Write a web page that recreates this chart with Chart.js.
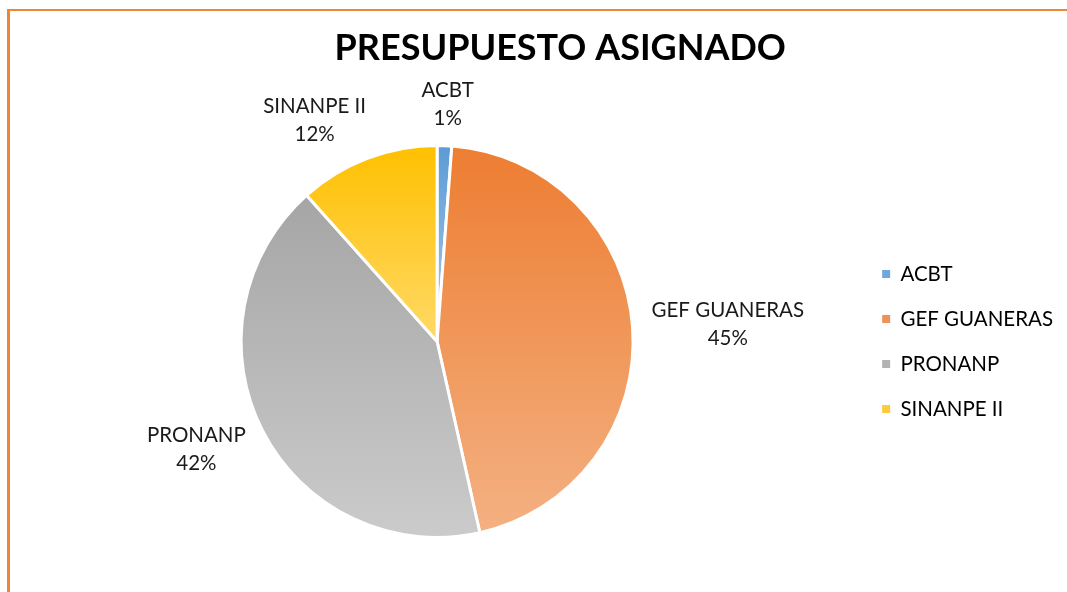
<!DOCTYPE html>
<html>
<head>
<meta charset="utf-8">
<script src="https://cdn.jsdelivr.net/npm/chart.js@4.4.1/dist/chart.umd.min.js"></script>
<style>
  html, body { margin: 0; padding: 0; background: #fff; overflow: hidden; }
  #frame { position: absolute; left: 7px; top: 9px; width: 1100px; height: 600px;
           border-left: 3px solid #EF8637; border-top: 2px solid #EF8637; }
  #budgetChart { display: block; }
</style>
</head>
<body>
<div id="frame"><canvas id="budgetChart" width="1096" height="581"></canvas></div>
<script>
// datos del gráfico
const categories = ["ACBT", "GEF GUANERAS", "PRONANP", "SINANPE II"];
const shares = [1.2, 45.3, 41.9, 11.6];
const percentLabels = ["1%", "45%", "42%", "12%"];
const topColors = ["#5B9BD5", "#ED7D31", "#A5A5A5", "#FFC000"];
const bottomColors = ["#A9CBEA", "#F4B183", "#CBCBCB", "#FFD966"];
const legendColors = ["#6FA8DC", "#F0915A", "#B3B3B3", "#FFCB3A"];

const FONT = "Lato, 'Noto Sans', sans-serif";
const LABEL_SIZE = 20.5;

// degradado vertical por porción (como en Excel)
function sliceGradient(context) {
    const i = context.dataIndex;
    const chart = context.chart;
    const area = chart.chartArea;
    if (!area) return topColors[i];
    const cx = (area.left + area.right) / 2;
    const cy = (area.top + area.bottom) / 2;
    const r = Math.min(area.right - area.left, area.bottom - area.top) / 2;
    const total = shares.reduce((a, b) => a + b, 0);
    let before = 0;
    for (let k = 0; k < i; k++) before += shares[k];
    const a0 = -Math.PI / 2 + before / total * 2 * Math.PI;
    const a1 = a0 + shares[i] / total * 2 * Math.PI;
    const ys = [cy, cy + r * Math.sin(a0), cy + r * Math.sin(a1)];
    const inside = (a) => {
        let t = a;
        while (t < a0) t += 2 * Math.PI;
        return t <= a1;
    };
    if (inside(Math.PI / 2)) ys.push(cy + r);
    if (inside(-Math.PI / 2)) ys.push(cy - r);
    const yTop = Math.min(...ys), yBot = Math.max(...ys);
    const g = chart.ctx.createLinearGradient(0, yTop, 0, yBot + 0.01);
    g.addColorStop(0, topColors[i]);
    g.addColorStop(1, bottomColors[i]);
    return g;
}

// etiquetas fuera de cada porción
const outsideLabels = {
    id: 'outsideLabels',
    afterDatasetsDraw(chart) {
        const ctx = chart.ctx;
        const meta = chart.getDatasetMeta(0);
        const lineH = 28;
        ctx.save();
        ctx.font = LABEL_SIZE + "px " + FONT;
        ctx.fillStyle = "#1a1a1a";
        ctx.textAlign = "center";
        ctx.textBaseline = "middle";
        meta.data.forEach((arc, i) => {
            const p = arc.getProps(['x', 'y', 'startAngle', 'endAngle', 'outerRadius'], true);
            const mid = (p.startAngle + p.endAngle) / 2;
            const dx = Math.cos(mid), dy = Math.sin(mid);
            const dist = p.outerRadius + 19;
            const ax = p.x + dx * dist, ay = p.y + dy * dist;
            const halfW = Math.max(ctx.measureText(categories[i]).width, ctx.measureText(percentLabels[i]).width) / 2;
            const halfH = 22;
            const fx = Math.max(-1, Math.min(1, dx * 2.5));
            const lx = ax + fx * halfW;
            const ly = ay + dy * halfH;
            ctx.fillText(categories[i], lx, ly - lineH / 2);
            ctx.fillText(percentLabels[i], lx, ly + lineH / 2);
        });
        ctx.restore();
    }
};

function createChart() {
    const ctx = document.getElementById('budgetChart').getContext('2d');
    window.budgetChart = new Chart(ctx, {
        type: 'pie',
        data: {
            labels: categories,
            datasets: [{
                data: shares,
                backgroundColor: sliceGradient,
                borderColor: "#ffffff",
                borderWidth: 3
            }]
        },
        options: {
            responsive: false,
            animation: false,
            layout: { padding: { left: 6.5, right: 2, top: 0, bottom: 53 } },
            plugins: {
                title: {
                    display: true,
                    text: "PRESUPUESTO ASIGNADO",
                    color: "#000000",
                    font: { family: FONT, size: 36, weight: "bold", lineHeight: 1.2 },
                    padding: { top: 15.4, bottom: 74.4 }
                },
                legend: {
                    position: 'right',
                    fullSize: false,
                    labels: {
                        boxWidth: 8,
                        boxHeight: 8,
                        padding: 24.5,
                        color: "#1a1a1a",
                        font: { family: FONT, size: LABEL_SIZE },
                        // espacios finales: reservan el ancho que ocupa la leyenda en el original
                        generateLabels: (chart) => categories.map((c, i) => ({
                            text: c + "\u2002\u2002\u2002\u2002",
                            fillStyle: legendColors[i],
                            strokeStyle: legendColors[i],
                            lineWidth: 0,
                            hidden: false,
                            index: i
                        }))
                    }
                },
                tooltip: { enabled: false }
            }
        },
        plugins: [outsideLabels]
    });
}

window.addEventListener("DOMContentLoaded", createChart);
</script>
</body>
</html>
